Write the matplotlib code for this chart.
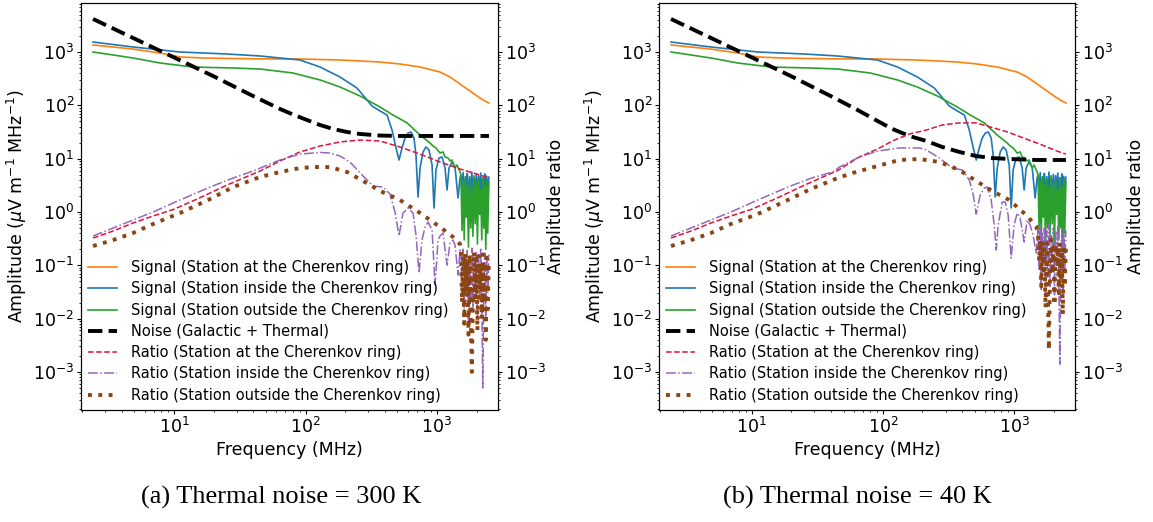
import matplotlib
matplotlib.use('Agg')
import matplotlib.pyplot as plt

plt.rcParams['font.family'] = ['DejaVu Sans']
plt.rcParams['mathtext.fontset'] = 'dejavusans'

# ---------------- data (frequency in MHz) ----------------
F_ORANGE = [2.42, 4.88, 7.83, 11.1, 17.0, 25.0, 50.0, 91.0, 183, 369, 523, 743, 1054, 1256, 1496, 1781, 2122, 2315, 2483]
ORANGE = [1360, 1140, 960, 810, 775, 760, 745, 742, 711, 652, 598, 525, 423, 341, 252, 186, 138, 121, 111]

F_BLUE = [2.42, 4.88, 11.1, 25.3, 45.1, 90.8, 129, 183, 246, 294, 320, 369, 417, 455, 488, 514, 542, 571,
          602, 634, 668, 692, 717, 743, 783, 824, 869, 917, 949, 982, 1035, 1092, 1151, 1192, 1234, 1300,
          1371, 1445, 1496]
BLUE = [1545, 1247, 1004, 921, 845, 711, 525, 341, 212, 126, 97.5, 78.5, 66, 34.5, 15.9, 9.46, 15.9, 24.5,
        30.3, 31.7, 24.5, 11.7, 1.91, 6.69, 13.4, 16.6, 14.6, 7.62, 1.19, 6.14, 10.3, 10.8, 6.69, 2.59, 6.69, 8.67,
        6.98, 1.83, 4.34]

F_GREEN = [2.42, 3.44, 4.88, 7.83, 13.9, 28.1, 45.1, 80.3, 129, 183, 260, 369, 463, 592, 743, 811, 885, 933,
           982, 1054, 1111, 1151, 1212, 1256, 1300, 1371, 1419, 1496]
GREEN = [1004, 883, 775, 624, 525, 503, 482, 405, 300, 221, 150, 93, 66, 47, 27.8, 23.4, 19.7, 17.3,
         15.9, 12.8, 13.4, 10.8, 10.3, 9.06, 9.46, 6.69, 7.62, 5.63]

# dense high-frequency part
F_HF = [1520, 1550, 1580, 1610, 1640, 1670, 1700, 1735, 1770, 1805, 1840, 1875, 1910, 1950, 1990, 2030,
        2070, 2110, 2150, 2190, 2230, 2270, 2310, 2350, 2390, 2430, 2480]
GREEN_HF = [5.0, 0.45, 3.8, 0.3, 4.6, 0.8, 3.2, 0.22, 4.2, 0.5, 2.8, 0.35, 4.8, 0.6, 3.5, 0.25, 4.0, 0.9,
            2.6, 0.3, 4.4, 0.5, 3.0, 0.2, 3.9, 0.4, 3.6]
BLUE_HF = [4.9, 2.4, 5.5, 1.8, 4.2, 2.9, 5.3, 1.7, 4.6, 2.2, 5.6, 1.9, 4.4, 2.6, 5.1, 1.75, 4.8, 2.3,
           5.4, 2.0, 4.3, 2.7, 5.2, 1.8, 4.7, 2.2, 4.5]

# noise
F_NOISE_A = [2.42, 4.88, 9.83, 19.8, 39.9, 64.0, 80.3, 102.6, 129, 162, 207, 260, 369, 523, 1256, 2483]
NOISE_A = [4180, 1840, 810, 356, 150, 85.6, 67.5, 53.2, 42.9, 36.1, 31.7, 29.1, 27.2, 26.7, 26.7, 26.7]
F_NOISE_B = [2.42, 4.88, 9.83, 19.8, 39.9, 64.0, 90.8, 118, 159, 214, 283, 382, 514, 680, 917, 1496, 2483]
NOISE_B = [4180, 1840, 810, 356, 150, 82, 51, 36.1, 26.7, 21.5, 16.6, 13.4, 11.2, 10.3, 9.87, 9.46, 9.46]

# ratios panel (a)
F_RED_A = [2.42, 3.44, 4.88, 6.92, 9.83, 15.0, 25.3, 45.1, 64.0, 90.8, 129, 183, 260, 369, 523, 743, 1054,
           1496, 2122, 2483]
RED_A = [0.325, 0.44, 0.622, 0.841, 1.11, 1.75, 3.21, 5.88, 9.06, 13.4, 17.3, 20.6, 22.4, 21.5, 16.6, 12.2,
         8.67, 6.41, 4.94, 4.34]
F_PURPLE_A = [2.42, 3.44, 4.88, 6.92, 11.1, 18.8, 28.1, 39.9, 53.7, 64.0, 90.8, 129, 153, 183, 218, 274, 326,
              388, 439, 479, 514, 551, 602, 657, 692, 730, 769, 811, 855, 917, 966, 1018, 1054, 1111, 1192,
              1256, 1324, 1371, 1445, 1496]
PURPLE_A = [0.355, 0.501, 0.708, 1.0, 1.68, 2.94, 4.34, 5.88, 7.96, 9.46, 12.2, 13.1, 12.8, 11.2, 8.67, 4.73,
            3.07, 2.94, 2.18, 1.0, 0.355, 0.958, 1.19, 0.958, 0.370, 0.0718, 0.298, 0.524, 0.649, 0.459,
            0.0427, 0.298, 0.355, 0.404, 0.101, 0.262, 0.298, 0.240, 0.0658, 0.194]
PURPLE_HF_A = [0.17, 0.03, 0.2, 0.012, 0.14, 0.05, 0.19, 0.008, 0.16, 0.02, 0.21, 0.015, 0.13, 0.04, 0.18,
               0.01, 0.15, 0.025, 0.2, 0.02, 0.0005, 0.05, 0.17, 0.009, 0.14, 0.03, 0.16]
F_BROWN_A = [2.42, 3.44, 4.88, 6.92, 11.1, 18.8, 28.1, 45.1, 64.0, 90.8, 118, 153, 207, 274, 369, 523, 743,
             1054, 1324, 1496]
BROWN_A = [0.230, 0.298, 0.404, 0.596, 0.958, 1.75, 2.94, 4.54, 5.63, 6.69, 6.98, 6.98, 5.63, 3.82, 2.48,
           1.68, 0.958, 0.524, 0.340, 0.251]
BROWN_HF_A = [0.2, 0.02, 0.15, 0.008, 0.17, 0.03, 0.12, 0.005, 0.16, 0.012, 0.001, 0.02, 0.18, 0.025, 0.13,
              0.006, 0.15, 0.035, 0.1, 0.01, 0.16, 0.02, 0.11, 0.004, 0.14, 0.015, 0.13]

# ratios panel (b)
F_RED_B = [2.42, 3.44, 4.88, 6.92, 9.83, 15.0, 25.3, 45.1, 66.2, 90.8, 118, 159, 214, 283, 382, 514, 680,
           917, 1234, 1632, 2122, 2483]
RED_B = [0.325, 0.44, 0.622, 0.841, 1.11, 1.75, 3.21, 6.0, 10.8, 15.2, 21.5, 29.1, 34.5, 42.9, 47, 47, 38.5,
         31.0, 23.4, 18.1, 13.9, 12.2]
F_PURPLE_B = [2.42, 3.44, 4.88, 6.92, 11.1, 18.8, 28.6, 41.3, 46.7, 66.2, 90.8, 133, 190, 214, 269, 338, 403,
              455, 488, 514, 551, 592, 623, 668, 705, 730, 755, 811, 855, 900, 949, 1000, 1054, 1111, 1192,
              1256, 1324, 1394, 1470]
PURPLE_B = [0.355, 0.501, 0.708, 1.0, 1.68, 2.94, 4.34, 5.63, 6.98, 10.8, 13.9, 15.9, 15.9, 14.6, 10.3, 6.69,
            6.14, 3.98, 2.08, 0.917, 2.08, 2.82, 2.94, 1.68, 0.570, 0.194, 0.570, 1.54, 1.54, 0.879, 0.137,
            0.570, 0.958, 0.772, 0.274, 0.708, 0.570, 0.370, 0.170]
PURPLE_HF_B = [0.45, 0.08, 0.55, 0.035, 0.4, 0.14, 0.5, 0.022, 0.45, 0.06, 0.58, 0.04, 0.36, 0.11, 0.5, 0.028,
               0.42, 0.1, 0.56, 0.055, 0.0014, 0.14, 0.47, 0.025, 0.4, 0.08, 0.45]
F_BROWN_B = [2.42, 3.44, 4.88, 6.92, 11.1, 18.8, 28.1, 45.1, 58.6, 90.8, 133, 190, 269, 382, 514, 680, 917,
             1234, 1470]
BROWN_B = [0.230, 0.298, 0.404, 0.596, 0.917, 1.68, 2.70, 4.34, 5.39, 7.30, 9.46, 9.87, 8.67, 6.14, 3.82,
           2.48, 1.68, 0.879, 0.546]
BROWN_HF_B = [0.4, 0.12, 0.3, 0.04, 0.28, 0.08, 0.2, 0.016, 0.26, 0.035, 0.0026, 0.06, 0.3, 0.07, 0.22, 0.018,
              0.25, 0.1, 0.18, 0.03, 0.27, 0.05, 0.19, 0.012, 0.24, 0.04, 0.22]

LABELS = ['Signal (Station at the Cherenkov ring)',
          'Signal (Station inside the Cherenkov ring)',
          'Signal (Station outside the Cherenkov ring)',
          'Noise (Galactic + Thermal)',
          'Ratio (Station at the Cherenkov ring)',
          'Ratio (Station inside the Cherenkov ring)',
          'Ratio (Station outside the Cherenkov ring)']
CAPTIONS = ['(a) Thermal noise = 300 K', '(b) Thermal noise = 40 K']

# ---------------- figure ----------------
W, H = 1153, 522
fig = plt.figure(figsize=(W / 100, H / 100), dpi=100)

panels = [
    dict(left=81, right=498, noise=(F_NOISE_A, NOISE_A), red=(F_RED_A, RED_A),
         purple=(F_PURPLE_A + F_HF, PURPLE_A + PURPLE_HF_A), brown=(F_BROWN_A + F_HF, BROWN_A + BROWN_HF_A),
         cap=CAPTIONS[0], capx=281.5, rlab=1.118),
    dict(left=659, right=1075, noise=(F_NOISE_B, NOISE_B), red=(F_RED_B, RED_B),
         purple=(F_PURPLE_B + F_HF, PURPLE_B + PURPLE_HF_B), brown=(F_BROWN_B + F_HF, BROWN_B + BROWN_HF_B),
         cap=CAPTIONS[1], capx=857.5, rlab=1.125),
]
top_px, bot_px = 3, 410
YLIM = (1.93e-4, 8340)
XLIM = (1.96, 2910)
FS = 12.5

for p in panels:
    ax = fig.add_axes([p['left'] / W, 1 - bot_px / H, (p['right'] - p['left']) / W, (bot_px - top_px) / H])
    ax2 = ax.twinx()
    ax.plot(F_ORANGE, ORANGE, color='#ff7f0e', lw=1.2, label=LABELS[0])
    ax.plot(F_BLUE + F_HF, BLUE + BLUE_HF, color='#1f77b4', lw=1.2, label=LABELS[1])
    ax.plot(F_GREEN + F_HF, GREEN + GREEN_HF, color='#2ca02c', lw=1.2, label=LABELS[2])
    ax.plot(*p['noise'], color='black', lw=2.8, ls=(0, (3.7, 1.6)), label=LABELS[3])
    ax2.plot(*p['red'], color='crimson', lw=1.1, ls='--', label=LABELS[4])
    ax2.plot(*p['purple'], color='#9467bd', lw=1.1, ls='-.', label=LABELS[5])
    ax2.plot(*p['brown'], color='#8b4513', lw=2.8, ls=':', label=LABELS[6])
    for a in (ax, ax2):
        a.set_xscale('log')
        a.set_yscale('log')
        a.set_ylim(*YLIM)
        a.tick_params(labelsize=FS, which='major', length=2.8, pad=2)
        a.tick_params(which='minor', length=1.6)
    ax.set_xlim(*XLIM)
    ax.set_xlabel('Frequency (MHz)', fontsize=FS, labelpad=3)
    ax.set_ylabel(r'Amplitude ($\mu$V m$^{-1}$ MHz$^{-1}$)', fontsize=FS)
    ax.yaxis.set_label_coords(-0.125, 0.5)
    ax2.set_ylabel('Amplitude ratio', fontsize=FS)
    ax2.yaxis.set_label_coords(p['rlab'], 0.5)
    h1, l1 = ax.get_legend_handles_labels()
    h2, l2 = ax2.get_legend_handles_labels()
    ax2.legend(h1 + h2, l1 + l2, loc='lower left', frameon=False, fontsize=10.5,
               borderaxespad=0.1, handlelength=2.0, handletextpad=0.95, labelspacing=0.43)
    fig.text(p['capx'] / W, 1 - 497 / H, p['cap'], family='Liberation Serif', fontsize=19,
             ha='center', va='center')

fig.savefig('out.png', dpi=100)
